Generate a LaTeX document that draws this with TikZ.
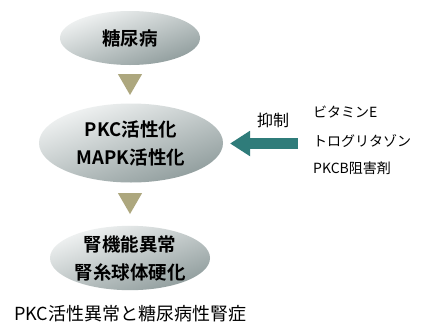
\documentclass[tikz,border=0pt]{standalone}
\usepackage{fontspec}
\setmainfont{Liberation Sans}
\newfontfamily\jp{Noto Sans CJK JP}
\newfontfamily\jpb{Noto Sans CJK JP Bold}
\usetikzlibrary{shapes.geometric,arrows.meta}
\definecolor{tri}{HTML}{ADA77E}
\definecolor{teal2}{HTML}{2F7C7A}
\definecolor{ovdark}{HTML}{8F9C9C}
\definecolor{ovlight}{HTML}{F2F4F4}
\tikzset{
  oval/.style={ellipse, inner sep=0pt, top color=ovlight, bottom color=ovdark, shading angle=20, font=\jpb\fontsize{18.5}{28}\selectfont, align=center, text=black},
  tridown/.style={regular polygon, regular polygon sides=3, shape border rotate=180, fill=tri, minimum size=28pt, inner sep=0pt},
  plain/.style={font=\jp\fontsize{14}{16}\selectfont, anchor=west, inner sep=0pt}
}
\begin{document}
\begin{tikzpicture}[x=1pt,y=-1pt]
\useasboundingbox[fill=white] (0,0) rectangle (425,327);
\node[oval, minimum width=140pt, minimum height=54pt] (e1) at (130,38) {糖尿病};
\node[tridown] (t1) at (130,81) {};
\node[oval, minimum width=184pt, minimum height=79pt] (e2) at (131,143) {PKC活性化\\MAPK活性化};
\node[tridown] (t2) at (130,200) {};
\node[oval, minimum width=160pt, minimum height=62pt] (e3) at (130,258) {腎機能異常\\腎糸球体硬化};
\node[plain, font=\jp\fontsize{18}{20}\selectfont] (cap) at (14,314) {PKC活性異常と糖尿病性腎症};
\node[font=\jp\fontsize{16}{18}\selectfont, inner sep=0pt] (yoku) at (273,120) {抑制};
\node[plain] (r1) at (313,112) {ビタミンE};
\node[plain] (r2) at (313,141) {トログリタゾン};
\node[plain] (r3) at (313,168) {PKCB阻害剤};
\coordinate (as) at (298,143.5);
\coordinate (ae) at (230,143.5);
\draw[teal2, line width=11pt, -{Triangle[length=20pt,width=24pt]}] (as) -- (ae);
\end{tikzpicture}
\end{document}
